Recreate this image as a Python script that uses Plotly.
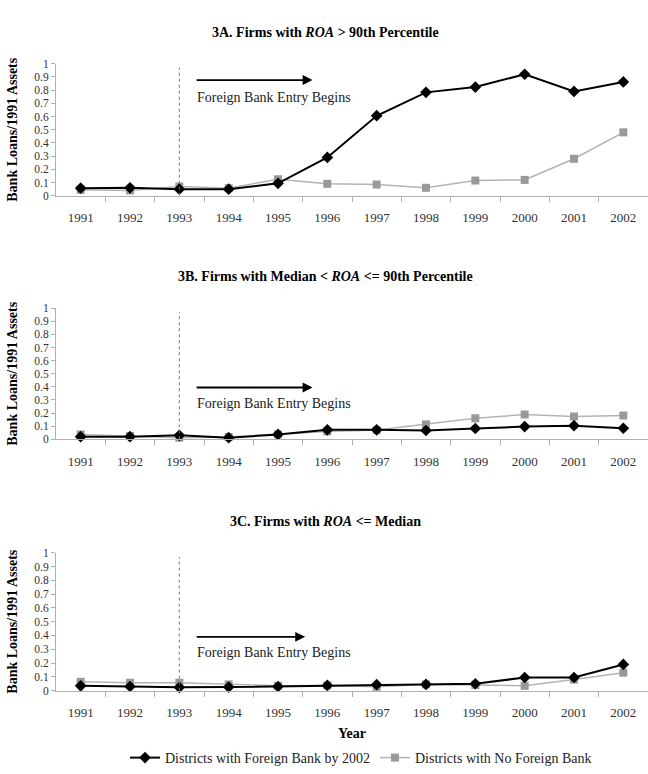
import plotly.graph_objects as go

years = [1991, 1992, 1993, 1994, 1995, 1996, 1997, 1998, 1999, 2000, 2001, 2002]

# Panel 3A
a_foreign = [0.057, 0.06, 0.05, 0.05, 0.094, 0.29, 0.606, 0.783, 0.823, 0.92, 0.79, 0.862]
a_noforeign = [0.045, 0.04, 0.07, 0.057, 0.125, 0.09, 0.085, 0.06, 0.115, 0.12, 0.28, 0.48]
# Panel 3B
b_foreign = [0.02, 0.02, 0.03, 0.012, 0.037, 0.072, 0.072, 0.067, 0.082, 0.097, 0.104, 0.084]
b_noforeign = [0.037, 0.025, 0.012, 0.017, 0.037, 0.06, 0.07, 0.114, 0.16, 0.189, 0.174, 0.181]
# Panel 3C
c_foreign = [0.035, 0.03, 0.024, 0.026, 0.03, 0.038, 0.043, 0.045, 0.05, 0.095, 0.095, 0.19]
c_noforeign = [0.064, 0.057, 0.057, 0.045, 0.035, 0.038, 0.028, 0.045, 0.04, 0.035, 0.08, 0.13]

panel_titles = ["3A. Firms with <i>ROA</i> &gt; 90th Percentile",
                "3B. Firms with Median &lt; <i>ROA</i> &lt;= 90th Percentile",
                "3C. Firms with <i>ROA</i> &lt;= Median"]
series_names = ["Districts with Foreign Bank by 2002", "Districts with No Foreign Bank"]
y_ticks = [0, 0.1, 0.2, 0.3, 0.4, 0.5, 0.6, 0.7, 0.8, 0.9, 1]
y_ticktext = ["0", "0.1", "0.2", "0.3", "0.4", "0.5", "0.6", "0.7", "0.8", "0.9", "1"]
entry_year = 1993
arrow_start = 1993.32
arrow_end = [1995.7, 1995.7, 1995.55]
arrow_y = [0.876, 0.395, 0.39]
text_y = [0.746, 0.27, 0.28]

W, H = 648, 774
FONT = "Liberation Serif, Times New Roman, DejaVu Serif, serif"
panels = [(a_foreign, a_noforeign), (b_foreign, b_noforeign), (c_foreign, c_noforeign)]
# pixel rows: (y=0 px, y=1 px, title px)
rows = [(194, 59, 27), (443, 309, 277), (700, 559, 527)]

fig = go.Figure()
layout = dict(width=W, height=H, margin=dict(l=0, r=0, t=0, b=0),
              paper_bgcolor="white", plot_bgcolor="white",
              font=dict(family=FONT, color="#333333", size=13),
              showlegend=True, annotations=[], shapes=[])

x_dom = [56 / W, 1.0]
for i, ((fser, nser), (p0, p1, pt)) in enumerate(zip(panels, rows)):
    xa = "x" if i == 0 else f"x{i+1}"
    ya = "y" if i == 0 else f"y{i+1}"
    fig.add_trace(go.Scatter(x=years, y=nser, xaxis=xa, yaxis=ya, mode="lines+markers",
                             name=series_names[1], showlegend=(i == 0),
                             line=dict(color="#b3b3b3", width=1.5),
                             marker=dict(symbol="square", size=8, color="#999999"),
                             cliponaxis=False, legendrank=2))
    fig.add_trace(go.Scatter(x=years, y=fser, xaxis=xa, yaxis=ya, mode="lines+markers",
                             name=series_names[0], showlegend=(i == 0),
                             line=dict(color="black", width=2),
                             marker=dict(symbol="diamond", size=9, color="black"),
                             cliponaxis=False, legendrank=1))
    dom = [1 - p0 / H, 1 - p1 / H]
    xkey = "xaxis" if i == 0 else f"xaxis{i+1}"
    ykey = "yaxis" if i == 0 else f"yaxis{i+1}"
    layout[xkey] = dict(domain=x_dom, anchor=ya, range=[1990.5, 2002.5],
                        tickvals=years, ticktext=[str(y) for y in years],
                        ticks="", showgrid=False, zeroline=False,
                        showline=True, linecolor="#b0b0b0", linewidth=1,
                        tickfont=dict(family=FONT, size=13, color="#333333"),
                        ticklabelstandoff=10,
                        minor=dict(tickvals=[y + 0.5 for y in years[:-1]], ticks="outside",
                                   ticklen=5, tickcolor="#b0b0b0", showgrid=False))
    layout[ykey] = dict(domain=dom, anchor=xa, range=[0, 1],
                        tickvals=y_ticks, ticktext=y_ticktext,
                        ticks="outside", ticklen=4, tickcolor="#b0b0b0",
                        showgrid=False, zeroline=False,
                        showline=True, linecolor="#b0b0b0", linewidth=1,
                        tickfont=dict(family=FONT, size=11.5, color="#333333"))
    # panel title
    layout["annotations"].append(dict(text=f"<b>{panel_titles[i]}</b>", xref="paper", yref="paper",
                                      x=0.503, y=1 - pt / H, xanchor="center", yanchor="middle",
                                      showarrow=False,
                                      font=dict(family=FONT, size=14, color="black")))
    # y-axis title
    layout["annotations"].append(dict(text="<b>Bank Loans/1991 Assets</b>", xref="paper", yref="paper",
                                      x=13 / W, y=(dom[0] + dom[1]) / 2, textangle=-90,
                                      xanchor="center", yanchor="middle", showarrow=False,
                                      font=dict(family=FONT, size=14, color="black")))
    # arrow
    layout["annotations"].append(dict(x=arrow_end[i], y=arrow_y[i], ax=arrow_start, ay=arrow_y[i],
                                      xref=xa, yref=ya, axref=xa, ayref=ya, text="",
                                      showarrow=True, arrowhead=2, arrowsize=1.1, arrowwidth=1.8,
                                      arrowcolor="black"))
    layout["annotations"].append(dict(x=arrow_start, y=text_y[i], xref=xa, yref=ya,
                                      text="Foreign Bank Entry Begins", showarrow=False,
                                      xanchor="left", yanchor="middle",
                                      font=dict(family=FONT, size=14, color="#222222")))
    # vertical dotted line
    layout["shapes"].append(dict(type="line", xref=xa, yref=ya, x0=entry_year, x1=entry_year,
                                 y0=0, y1=0.97, line=dict(color="#777777", width=1, dash="dot")))

layout["annotations"].append(dict(text="<b>Year</b>", xref="paper", yref="paper",
                                  x=352 / W, y=1 - 744 / H, xanchor="center", yanchor="middle",
                                  showarrow=False,
                                  font=dict(family=FONT, size=14, color="black")))
layout["legend"] = dict(orientation="h", x=125 / W, y=1 - 769 / H, xanchor="left", yanchor="middle",
                        font=dict(family=FONT, size=14, color="#222222"),
                        bgcolor="rgba(0,0,0,0)", itemwidth=30, traceorder="normal")
fig.update_layout(**layout)
fig.write_html("out.html")
